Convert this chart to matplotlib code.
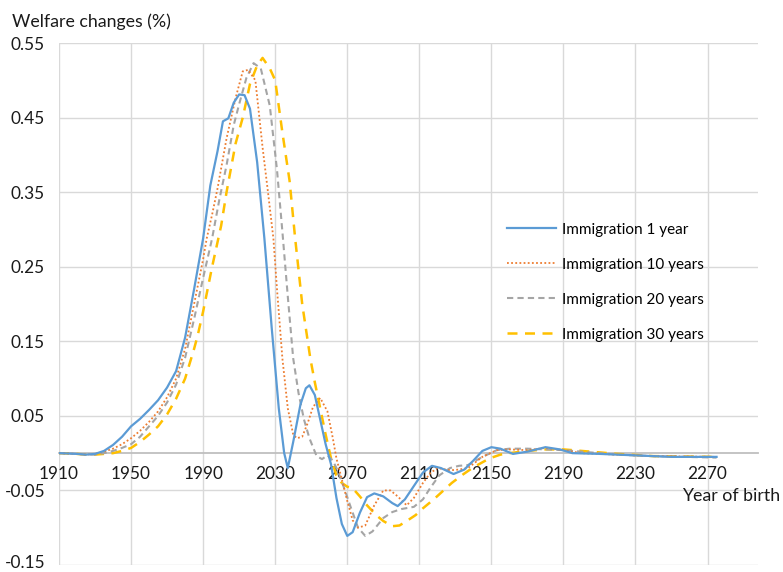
import matplotlib
matplotlib.use("Agg")
import matplotlib.pyplot as plt

plt.rcParams['font.family'] = ['Lato', 'DejaVu Sans']

# Immigration 1 year
years_1 = [1910, 1920, 1925, 1930, 1935, 1940, 1945, 1950, 1955, 1960, 1965, 1970, 1975,
           1980, 1985, 1990, 1994, 1998, 2001, 2004, 2007, 2010, 2013, 2016, 2020, 2024,
           2028, 2032, 2035, 2037, 2040, 2044, 2047, 2049, 2052, 2055, 2058, 2061, 2064,
           2067, 2070, 2073, 2077, 2081, 2085, 2090, 2095, 2098, 2102, 2107, 2112, 2117,
           2122, 2129, 2135, 2140, 2145, 2150, 2155, 2162, 2170, 2180, 2188, 2195, 2210,
           2230, 2250, 2275]
imm_1 = [0, -0.001, -0.002, -0.001, 0.003, 0.011, 0.022, 0.036, 0.046, 0.058, 0.071, 0.088, 0.11,
         0.155, 0.22, 0.288, 0.359, 0.405, 0.445, 0.449, 0.47, 0.481, 0.48, 0.462, 0.39, 0.288,
         0.17, 0.06, 0.0, -0.02, 0.015, 0.065, 0.087, 0.091, 0.078, 0.045, 0.012, -0.015, -0.06,
         -0.095, -0.111, -0.106, -0.08, -0.059, -0.054, -0.058, -0.067, -0.071, -0.062, -0.044, -0.026, -0.017,
         -0.02, -0.028, -0.022, -0.01, 0.003, 0.008, 0.006, -0.001, 0.002, 0.008, 0.005, 0.0, -0.001,
         -0.003, -0.005, -0.005]

# Immigration 10 years
years_10 = [1910, 1920, 1925, 1930, 1935, 1940, 1945, 1950, 1955, 1960, 1965, 1970, 1975, 1980,
            1985, 1990, 1992, 1995, 1998, 2003, 2008, 2012, 2015, 2019, 2023, 2026, 2029, 2031,
            2034, 2037, 2040, 2042, 2045, 2048, 2051, 2055, 2059, 2062, 2064, 2067, 2070, 2073,
            2076, 2080, 2085, 2090, 2094, 2098, 2103, 2107, 2112, 2116, 2120, 2127, 2132, 2137,
            2145, 2153, 2160, 2170, 2180, 2190, 2200, 2220, 2240, 2275]
imm_10 = [0, -0.001, -0.002, -0.001, 0.002, 0.006, 0.012, 0.02, 0.03, 0.042, 0.056, 0.075, 0.1, 0.14,
          0.2, 0.26, 0.288, 0.32, 0.355, 0.422, 0.476, 0.512, 0.514, 0.5, 0.41, 0.35, 0.288, 0.22,
          0.127, 0.06, 0.025, 0.02, 0.022, 0.04, 0.062, 0.074, 0.056, 0.02, -0.007, -0.035, -0.064, -0.09,
          -0.1, -0.097, -0.07, -0.05, -0.05, -0.058, -0.07, -0.06, -0.04, -0.027, -0.02, -0.023, -0.022, -0.02,
          -0.005, 0.004, 0.005, 0.004, 0.007, 0.004, 0.0, -0.002, -0.004, -0.005]

# Immigration 20 years
years_20 = [1910, 1920, 1925, 1930, 1935, 1940, 1945, 1950, 1955, 1960, 1965, 1970, 1975, 1980,
            1985, 1990, 1995, 1999, 2003, 2007, 2010, 2014, 2018, 2022, 2027, 2031, 2034, 2037,
            2040, 2043, 2046, 2049, 2053, 2056, 2059, 2062, 2065, 2068, 2072, 2076, 2080, 2084,
            2090, 2095, 2100, 2107, 2112, 2116, 2121, 2127, 2132, 2137, 2145, 2153, 2160, 2170,
            2180, 2190, 2200, 2220, 2240, 2275]
imm_20 = [0, -0.001, -0.002, -0.002, 0.0, 0.003, 0.007, 0.012, 0.022, 0.036, 0.05, 0.068, 0.092, 0.128,
          0.18, 0.235, 0.288, 0.34, 0.386, 0.44, 0.468, 0.503, 0.523, 0.516, 0.466, 0.38, 0.297, 0.21,
          0.127, 0.08, 0.045, 0.02, -0.004, -0.008, -0.003, -0.01, -0.025, -0.045, -0.073, -0.1, -0.111, -0.105,
          -0.087, -0.079, -0.075, -0.072, -0.062, -0.047, -0.03, -0.02, -0.017, -0.016, -0.005, 0.004, 0.006, 0.006,
          0.005, 0.004, 0.002, -0.002, -0.004, -0.006]

# Immigration 30 years
years_30 = [1910, 1920, 1925, 1930, 1935, 1940, 1945, 1950, 1955, 1960, 1965, 1970, 1975, 1980,
            1985, 1987, 1990, 1995, 2000, 2003, 2008, 2012, 2016, 2020, 2023, 2027, 2030, 2034,
            2038, 2041, 2045, 2049.5, 2052, 2055, 2058, 2061, 2064, 2067, 2070, 2073, 2077, 2081,
            2086, 2090, 2095, 2099, 2103, 2108, 2112, 2118, 2123, 2128, 2134, 2140, 2149, 2155,
            2160, 2170, 2180, 2190, 2200, 2220, 2240, 2275]
imm_30 = [0, -0.001, -0.002, -0.002, -0.001, 0.0, 0.003, 0.007, 0.015, 0.025, 0.036, 0.052, 0.073, 0.1,
          0.14, 0.158, 0.19, 0.25, 0.305, 0.35, 0.415, 0.45, 0.495, 0.52, 0.53, 0.516, 0.5, 0.43,
          0.365, 0.29, 0.2, 0.127, 0.095, 0.06, 0.025, -0.007, -0.03, -0.04, -0.045, -0.047, -0.058, -0.07,
          -0.083, -0.091, -0.098, -0.097, -0.091, -0.083, -0.074, -0.062, -0.051, -0.04, -0.029, -0.019, -0.007, -0.002,
          0.0, 0.003, 0.005, 0.005, 0.003, -0.001, -0.004, -0.005]

labels = ['Immigration 1 year', 'Immigration 10 years', 'Immigration 20 years', 'Immigration 30 years']
x_ticks = list(range(1910, 2271, 40))
y_ticks = [-0.15, -0.05, 0.05, 0.15, 0.25, 0.35, 0.45, 0.55]

fig = plt.figure(figsize=(7.83, 5.72), dpi=100)
ax = fig.add_axes([59 / 783, 1 - 565 / 572, 699 / 783, 522 / 572])

ax.plot(years_1, imm_1, color='#5B9BD5', lw=1.6, label=labels[0], zorder=5)
ax.plot(years_10, imm_10, color='#ED7D31', lw=1.3, linestyle=(0, (1, 1.3)), label=labels[1], zorder=4)
ax.plot(years_20, imm_20, color='#A5A5A5', lw=1.5, linestyle=(0, (3, 2)), label=labels[2], zorder=3)
ax.plot(years_30, imm_30, color='#FFC000', lw=1.8, linestyle=(0, (4, 3)), label=labels[3], zorder=2)

ax.set_xlim(1910, 2298)
ax.set_ylim(-0.15, 0.55)
ax.set_xticks(x_ticks)
ax.set_yticks(y_ticks)
# lowest label sits on the figure edge, drawn separately below so it is not clipped
ax.set_yticklabels(['' if v == y_ticks[0] else f'{v:.2f}' for v in y_ticks])
ax.grid(True, color='#D9D9D9', lw=1.0)
ax.set_axisbelow(True)

for s in ['top', 'right', 'left']:
    ax.spines[s].set_visible(False)
ax.spines['bottom'].set_position(('data', 0))
ax.spines['bottom'].set_color('#BFBFBF')
ax.spines['bottom'].set_linewidth(1.3)
ax.spines['bottom'].set_zorder(1)
ax.tick_params(axis='both', length=0, labelsize=12.4, colors='#1a1a1a')
ax.tick_params(axis='x', pad=9)
ax.tick_params(axis='y', pad=10)
for lab in ax.get_yticklabels():
    lab.set_verticalalignment('center_baseline')

fig.text(45 / 783, 1 / 572, f'{y_ticks[0]:.2f}', fontsize=12.4, ha='right', va='bottom', color='#1a1a1a')

leg = ax.legend(loc='upper left', bbox_to_anchor=(493 / 783, 1 - 209 / 572),
                bbox_transform=fig.transFigure, frameon=False, fontsize=11,
                handlelength=3.2, handletextpad=0.4, labelspacing=1.37)

fig.text(12 / 783, 1 - 22 / 572, 'Welfare changes (%)', fontsize=12.8, ha='left', va='center', color='#1a1a1a')
fig.text(682 / 783, 1 - 496 / 572, 'Year of birth', fontsize=12.8, ha='left', va='center', color='#1a1a1a')

fig.savefig('out.png', dpi=100)
